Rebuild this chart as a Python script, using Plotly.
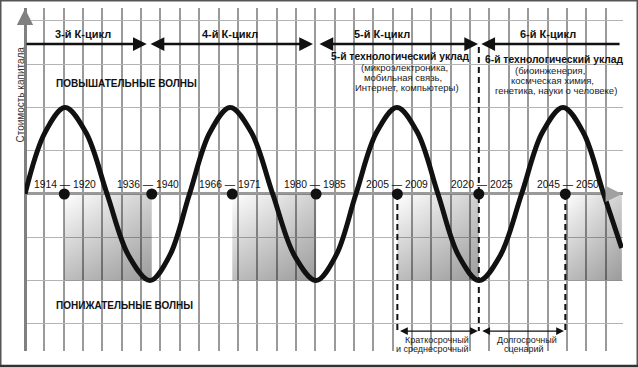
import plotly.graph_objects as go

# ---------------- data (grid units: x = columns from the value axis, y = rows from the time axis) -------------
wave_x = [0, 1.03, 2.07, 3.15, 4.24, 5.35, 6.46, 7.48, 8.5, 9.55, 10.6, 11.7, 12.8, 13.92, 15.04,
          16.07, 17.1, 18.16, 19.22, 20.28, 21.34, 22.4, 23.46, 24.56, 25.66, 26.73, 27.8, 28.85, 29.9, 30.83]
wave_y = [0, 1.42, 2.0, 1.42, 0, -1.42, -2.0, -1.42, 0, 1.42, 2.0, 1.42, 0, -1.42, -2.0,
          -1.42, 0, 1.42, 2.0, 1.42, 0, -1.42, -2.0, -1.42, 0, 1.42, 2.0, 1.42, 0, -1.25]

period_labels = ["1914 — 1920", "1936 — 1940", "1966 — 1971", "1980 — 1985",
                 "2005 — 2009", "2020 — 2025", "2045 — 2050"]
period_x = [2.03, 6.55, 10.71, 15.04, 19.24, 23.45, 27.92]
period_label_x = [2.07, 6.36, 10.59, 14.99, 19.22, 23.62, 28.06]

cycle_names = ["3-й К-цикл", "4-й К-цикл", "5-й К-цикл", "6-й К-цикл"]
cycle_label_x = [3.0, 10.6, 18.45, 27.03]
cycle_start = [0, 6.41, 15.14, 23.58]
cycle_end = [6.29, 14.88, 23.41, 30.8]
cycle_sides = ["end", "end+start", "end+start", "start"]

box_start = [2.03, 10.71, 19.24, 27.92]
box_end = [6.55, 15.04, 23.45, 30.84]

dash_x = [19.24, 23.45, 27.92]
dash_top = [0, 3.4, 0]

tech5_lines = ["(микроэлектроника,", "мобильная связь,", "Интернет, компьютеры)"]
tech6_lines = ["(биоинженерия,", "космческая химия,", "генетика, науки о человеке)"]
short_lines = ["Краткосрочный", "и среднесрочный", "сценарии"]
long_lines = ["Долгосрочный", "сценарий"]
scenario_start = [19.3, 23.55]
scenario_end = [23.4, 27.85]

SANS = "Liberation Sans, Arial, sans-serif"

fig = go.Figure()

# gradient boxes (two overlaid linear gradients)
for x0, x1 in zip(box_start, box_end):
    fig.add_trace(go.Scatter(
        x=[x0, x1, x1, x0, x0], y=[0, 0, -2, -2, 0], mode="lines", fill="toself",
        line=dict(width=0), hoverinfo="skip", showlegend=False,
        fillgradient=dict(type="horizontal", start=x0, stop=x1,
                          colorscale=[[0, "rgba(0,0,0,0)"], [1, "rgba(0,0,0,0.18)"]])))
    fig.add_trace(go.Scatter(
        x=[x0, x1, x1, x0, x0], y=[0, 0, -2, -2, 0], mode="lines", fill="toself",
        line=dict(width=0), hoverinfo="skip", showlegend=False,
        fillgradient=dict(type="vertical", start=0, stop=-2,
                          colorscale=[[0, "rgba(0,0,0,0)"], [1, "rgba(0,0,0,0.26)"]])))

# dashed verticals
for dx, dt in zip(dash_x, dash_top):
    fig.add_trace(go.Scatter(x=[dx, dx], y=[dt, -3.17], mode="lines",
                             line=dict(color="#111", width=2, dash="6px,4px"),
                             hoverinfo="skip", showlegend=False))

# wave
fig.add_trace(go.Scatter(x=wave_x, y=wave_y, mode="lines",
                         line=dict(color="#111", width=5, shape="spline", smoothing=1.0),
                         hoverinfo="skip", showlegend=False))

# period dots
fig.add_trace(go.Scatter(x=period_x, y=[0] * len(period_x), mode="markers",
                         marker=dict(size=11, color="#111"),
                         hoverinfo="skip", showlegend=False))

ann = []
# axis arrowheads
ann.append(dict(x=0, y=4.28, ax=0, ay=3.9, xref="x", yref="y", axref="x", ayref="y", text="",
                showarrow=True, arrowhead=2, arrowsize=1.3, arrowwidth=2.5, arrowcolor="#808080", standoff=0))
ann.append(dict(x=30.84, y=0, ax=30.2, ay=0, xref="x", yref="y", axref="x", ayref="y", text="",
                showarrow=True, arrowhead=2, arrowsize=1.3, arrowwidth=2.5, arrowcolor="#a0a0a0", standoff=0))

# cycle arrows and names
for name, lx, s, e, side in zip(cycle_names, cycle_label_x, cycle_start, cycle_end, cycle_sides):
    if side == "start":
        ann.append(dict(x=s, y=3.465, ax=e, ay=3.465, xref="x", yref="y", axref="x", ayref="y", text="",
                        showarrow=True, arrowhead=2, arrowsize=1.1, arrowwidth=2.5, arrowcolor="#111",
                        arrowside="end", standoff=0))
    else:
        ann.append(dict(x=e, y=3.465, ax=s, ay=3.465, xref="x", yref="y", axref="x", ayref="y", text="",
                        showarrow=True, arrowhead=2, arrowsize=1.1, arrowwidth=2.5, arrowcolor="#111",
                        arrowside=side, standoff=0, startstandoff=0, startarrowhead=2, startarrowsize=1.1))
    ann.append(dict(x=lx, y=3.70, xref="x", yref="y", text="<b>%s</b>" % name, showarrow=False,
                    font=dict(family=SANS, size=11, color="#111")))

# period labels
for t, lx in zip(period_labels, period_label_x):
    ann.append(dict(x=lx, y=0.23, xref="x", yref="y", text=t, showarrow=False,
                    font=dict(family=SANS, size=10.3, color="#111")))

# wave titles
ann.append(dict(x=1.5, y=2.56, xref="x", yref="y", xanchor="left", text="<b>ПОВЫШАТЕЛЬНЫЕ ВОЛНЫ</b>",
                showarrow=False, font=dict(family=SANS, size=10, color="#111")))
ann.append(dict(x=1.5, y=-2.57, xref="x", yref="y", xanchor="left", text="<b>ПОНИЖАТЕЛЬНЫЕ ВОЛНЫ</b>",
                showarrow=False, font=dict(family=SANS, size=10, color="#111")))

# technology blocks
ann.append(dict(x=19.38, y=3.17, xref="x", yref="y", text="<b>5-й технологический уклад</b>",
                showarrow=False, font=dict(family=SANS, size=10.3, color="#111")))
for t, lx, ly in zip(tech5_lines, [19.59, 19.51, 19.72], [2.93, 2.70, 2.47]):
    ann.append(dict(x=lx, y=ly, xref="x", yref="y", text=t, showarrow=False,
                    font=dict(family=SANS, size=9.5, color="#222")))
ann.append(dict(x=27.34, y=3.10, xref="x", yref="y", text="<b>6-й технологический уклад</b>",
                showarrow=False, font=dict(family=SANS, size=10.3, color="#111")))
for t, lx, ly in zip(tech6_lines, [27.13, 27.24, 27.42], [2.86, 2.63, 2.40]):
    ann.append(dict(x=lx, y=ly, xref="x", yref="y", text=t, showarrow=False,
                    font=dict(family=SANS, size=9.5, color="#222")))

# scenario arrows and texts
for s, e in zip(scenario_start, scenario_end):
    ann.append(dict(x=e, y=-3.17, ax=s, ay=-3.17, xref="x", yref="y", axref="x", ayref="y", text="",
                    showarrow=True, arrowhead=2, arrowsize=1.2, arrowwidth=1.3, arrowcolor="#111",
                    arrowside="end+start", standoff=0, startstandoff=0, startarrowhead=2, startarrowsize=1.2))
for t, ly in zip(short_lines, [-3.38, -3.59, -3.80]):
    ann.append(dict(x=23.05, y=ly, xref="x", yref="y", xanchor="right", text=t, showarrow=False,
                    font=dict(family=SANS, size=9, color="#222")))
for t, lx, ly in zip(long_lines, [25.94, 25.79], [-3.38, -3.58]):
    ann.append(dict(x=lx, y=ly, xref="x", yref="y", text=t, showarrow=False,
                    font=dict(family=SANS, size=9, color="#222")))

L, R, T, B, W, H = 25, 15, 8, 17, 638, 368
pw, ph = W - L - R, H - T - B
def px(xp):
    return (xp - L) / pw
def py(yp):
    return (H - B - yp) / ph

# value axis title
ann.append(dict(x=px(13.5), y=2.3, xref="paper", yref="y", text="Стоимость капитала", textangle=-90,
                showarrow=False, font=dict(family=SANS, size=10, color="#333")))

shapes = [
    dict(type="rect", xref="paper", yref="paper", x0=px(0.75), x1=px(637.25), y0=py(366), y1=py(0.75),
         line=dict(color="#555", width=1.5), layer="above"),
    dict(type="line", xref="paper", yref="paper", x0=px(0), x1=px(638), y0=py(366), y1=py(366),
         line=dict(color="#333", width=2.5), layer="above"),
]

fig.update_layout(
    width=W, height=H, margin=dict(l=L, r=R, t=T, b=B, pad=0),
    paper_bgcolor="white", plot_bgcolor="white", showlegend=False,
    annotations=ann, shapes=shapes,
    xaxis=dict(range=[0, 30.9], tick0=0, dtick=1, showgrid=True, gridcolor="#9a9a9a", gridwidth=1.5,
               zeroline=True, zerolinecolor="#808080", zerolinewidth=2.5,
               showticklabels=False, ticks="", showline=False, fixedrange=True),
    yaxis=dict(range=[-3.63, 4.3], tick0=0, dtick=1, showgrid=True, gridcolor="#b4b4b4", gridwidth=1,
               zeroline=True, zerolinecolor="#9a9a9a", zerolinewidth=2.5,
               showticklabels=False, ticks="", showline=False, fixedrange=True),
)

fig.write_html("out.html", config={"displayModeBar": False},
               post_script="document.body.style.margin='0';document.body.style.padding='0';"
                           "document.body.style.overflow='hidden';")
